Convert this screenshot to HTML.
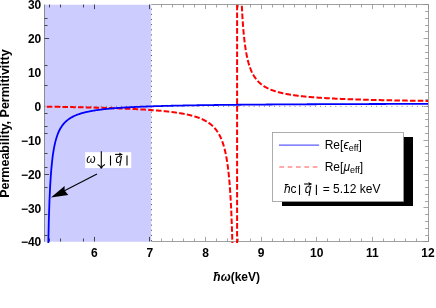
<!DOCTYPE html>
<html><head><meta charset="utf-8">
<style>
html,body{margin:0;padding:0;background:#fff;}
body{width:436px;height:308px;overflow:hidden;font-family:"Liberation Sans",sans-serif;}
svg{display:block;}
text{filter:grayscale(1);font-family:"Liberation Sans",sans-serif;fill:#000;}
.tl{font-size:12px;font-weight:bold;}
.yl{font-size:12.5px;font-weight:bold;}
.lg{font-size:12px;}
</style></head><body>
<svg width="436" height="308" viewBox="0 0 436 308">
<defs><clipPath id="cp"><rect x="44.6" y="4.722" width="383.44" height="238.25499999999997"/></clipPath></defs>
<rect x="0" y="0" width="436" height="308" fill="#fff"/>
<path d="M44.5 4.5 H428.5 V241.5 H44.5" fill="none" stroke="#888" stroke-width="0.8"/>
<line x1="161.50" y1="241.50" x2="161.50" y2="238.50" stroke="#888" stroke-width="0.75"/><line x1="161.50" y1="4.50" x2="161.50" y2="7.50" stroke="#888" stroke-width="0.75"/><line x1="172.50" y1="241.50" x2="172.50" y2="238.50" stroke="#888" stroke-width="0.75"/><line x1="172.50" y1="4.50" x2="172.50" y2="7.50" stroke="#888" stroke-width="0.75"/><line x1="183.50" y1="241.50" x2="183.50" y2="238.50" stroke="#888" stroke-width="0.75"/><line x1="183.50" y1="4.50" x2="183.50" y2="7.50" stroke="#888" stroke-width="0.75"/><line x1="194.50" y1="241.50" x2="194.50" y2="238.50" stroke="#888" stroke-width="0.75"/><line x1="194.50" y1="4.50" x2="194.50" y2="7.50" stroke="#888" stroke-width="0.75"/><line x1="205.50" y1="241.50" x2="205.50" y2="236.90" stroke="#888" stroke-width="0.75"/><line x1="205.50" y1="4.50" x2="205.50" y2="9.10" stroke="#888" stroke-width="0.75"/><line x1="216.50" y1="241.50" x2="216.50" y2="238.50" stroke="#888" stroke-width="0.75"/><line x1="216.50" y1="4.50" x2="216.50" y2="7.50" stroke="#888" stroke-width="0.75"/><line x1="227.50" y1="241.50" x2="227.50" y2="238.50" stroke="#888" stroke-width="0.75"/><line x1="227.50" y1="4.50" x2="227.50" y2="7.50" stroke="#888" stroke-width="0.75"/><line x1="238.50" y1="241.50" x2="238.50" y2="238.50" stroke="#888" stroke-width="0.75"/><line x1="238.50" y1="4.50" x2="238.50" y2="7.50" stroke="#888" stroke-width="0.75"/><line x1="250.50" y1="241.50" x2="250.50" y2="238.50" stroke="#888" stroke-width="0.75"/><line x1="250.50" y1="4.50" x2="250.50" y2="7.50" stroke="#888" stroke-width="0.75"/><line x1="261.50" y1="241.50" x2="261.50" y2="236.90" stroke="#888" stroke-width="0.75"/><line x1="261.50" y1="4.50" x2="261.50" y2="9.10" stroke="#888" stroke-width="0.75"/><line x1="272.50" y1="241.50" x2="272.50" y2="238.50" stroke="#888" stroke-width="0.75"/><line x1="272.50" y1="4.50" x2="272.50" y2="7.50" stroke="#888" stroke-width="0.75"/><line x1="283.50" y1="241.50" x2="283.50" y2="238.50" stroke="#888" stroke-width="0.75"/><line x1="283.50" y1="4.50" x2="283.50" y2="7.50" stroke="#888" stroke-width="0.75"/><line x1="294.50" y1="241.50" x2="294.50" y2="238.50" stroke="#888" stroke-width="0.75"/><line x1="294.50" y1="4.50" x2="294.50" y2="7.50" stroke="#888" stroke-width="0.75"/><line x1="305.50" y1="241.50" x2="305.50" y2="238.50" stroke="#888" stroke-width="0.75"/><line x1="305.50" y1="4.50" x2="305.50" y2="7.50" stroke="#888" stroke-width="0.75"/><line x1="316.50" y1="241.50" x2="316.50" y2="236.90" stroke="#888" stroke-width="0.75"/><line x1="316.50" y1="4.50" x2="316.50" y2="9.10" stroke="#888" stroke-width="0.75"/><line x1="327.50" y1="241.50" x2="327.50" y2="238.50" stroke="#888" stroke-width="0.75"/><line x1="327.50" y1="4.50" x2="327.50" y2="7.50" stroke="#888" stroke-width="0.75"/><line x1="339.50" y1="241.50" x2="339.50" y2="238.50" stroke="#888" stroke-width="0.75"/><line x1="339.50" y1="4.50" x2="339.50" y2="7.50" stroke="#888" stroke-width="0.75"/><line x1="350.50" y1="241.50" x2="350.50" y2="238.50" stroke="#888" stroke-width="0.75"/><line x1="350.50" y1="4.50" x2="350.50" y2="7.50" stroke="#888" stroke-width="0.75"/><line x1="361.50" y1="241.50" x2="361.50" y2="238.50" stroke="#888" stroke-width="0.75"/><line x1="361.50" y1="4.50" x2="361.50" y2="7.50" stroke="#888" stroke-width="0.75"/><line x1="372.50" y1="241.50" x2="372.50" y2="236.90" stroke="#888" stroke-width="0.75"/><line x1="372.50" y1="4.50" x2="372.50" y2="9.10" stroke="#888" stroke-width="0.75"/><line x1="383.50" y1="241.50" x2="383.50" y2="238.50" stroke="#888" stroke-width="0.75"/><line x1="383.50" y1="4.50" x2="383.50" y2="7.50" stroke="#888" stroke-width="0.75"/><line x1="394.50" y1="241.50" x2="394.50" y2="238.50" stroke="#888" stroke-width="0.75"/><line x1="394.50" y1="4.50" x2="394.50" y2="7.50" stroke="#888" stroke-width="0.75"/><line x1="405.50" y1="241.50" x2="405.50" y2="238.50" stroke="#888" stroke-width="0.75"/><line x1="405.50" y1="4.50" x2="405.50" y2="7.50" stroke="#888" stroke-width="0.75"/><line x1="416.50" y1="241.50" x2="416.50" y2="238.50" stroke="#888" stroke-width="0.75"/><line x1="416.50" y1="4.50" x2="416.50" y2="7.50" stroke="#888" stroke-width="0.75"/><line x1="428.50" y1="241.50" x2="428.50" y2="236.90" stroke="#888" stroke-width="0.75"/><line x1="428.50" y1="4.50" x2="428.50" y2="9.10" stroke="#888" stroke-width="0.75"/><line x1="428.50" y1="241.50" x2="423.50" y2="241.50" stroke="#888" stroke-width="0.75"/><line x1="428.50" y1="235.50" x2="425.10" y2="235.50" stroke="#888" stroke-width="0.75"/><line x1="428.50" y1="228.50" x2="425.10" y2="228.50" stroke="#888" stroke-width="0.75"/><line x1="428.50" y1="221.50" x2="425.10" y2="221.50" stroke="#888" stroke-width="0.75"/><line x1="428.50" y1="214.50" x2="425.10" y2="214.50" stroke="#888" stroke-width="0.75"/><line x1="428.50" y1="207.50" x2="423.50" y2="207.50" stroke="#888" stroke-width="0.75"/><line x1="428.50" y1="201.50" x2="425.10" y2="201.50" stroke="#888" stroke-width="0.75"/><line x1="428.50" y1="194.50" x2="425.10" y2="194.50" stroke="#888" stroke-width="0.75"/><line x1="428.50" y1="187.50" x2="425.10" y2="187.50" stroke="#888" stroke-width="0.75"/><line x1="428.50" y1="180.50" x2="425.10" y2="180.50" stroke="#888" stroke-width="0.75"/><line x1="428.50" y1="174.50" x2="423.50" y2="174.50" stroke="#888" stroke-width="0.75"/><line x1="428.50" y1="167.50" x2="425.10" y2="167.50" stroke="#888" stroke-width="0.75"/><line x1="428.50" y1="160.50" x2="425.10" y2="160.50" stroke="#888" stroke-width="0.75"/><line x1="428.50" y1="153.50" x2="425.10" y2="153.50" stroke="#888" stroke-width="0.75"/><line x1="428.50" y1="146.50" x2="425.10" y2="146.50" stroke="#888" stroke-width="0.75"/><line x1="428.50" y1="140.50" x2="423.50" y2="140.50" stroke="#888" stroke-width="0.75"/><line x1="428.50" y1="133.50" x2="425.10" y2="133.50" stroke="#888" stroke-width="0.75"/><line x1="428.50" y1="126.50" x2="425.10" y2="126.50" stroke="#888" stroke-width="0.75"/><line x1="428.50" y1="119.50" x2="425.10" y2="119.50" stroke="#888" stroke-width="0.75"/><line x1="428.50" y1="113.50" x2="425.10" y2="113.50" stroke="#888" stroke-width="0.75"/><line x1="428.50" y1="106.50" x2="423.50" y2="106.50" stroke="#888" stroke-width="0.75"/><line x1="428.50" y1="99.50" x2="425.10" y2="99.50" stroke="#888" stroke-width="0.75"/><line x1="428.50" y1="92.50" x2="425.10" y2="92.50" stroke="#888" stroke-width="0.75"/><line x1="428.50" y1="85.50" x2="425.10" y2="85.50" stroke="#888" stroke-width="0.75"/><line x1="428.50" y1="79.50" x2="425.10" y2="79.50" stroke="#888" stroke-width="0.75"/><line x1="428.50" y1="72.50" x2="423.50" y2="72.50" stroke="#888" stroke-width="0.75"/><line x1="428.50" y1="65.50" x2="425.10" y2="65.50" stroke="#888" stroke-width="0.75"/><line x1="428.50" y1="58.50" x2="425.10" y2="58.50" stroke="#888" stroke-width="0.75"/><line x1="428.50" y1="52.50" x2="425.10" y2="52.50" stroke="#888" stroke-width="0.75"/><line x1="428.50" y1="45.50" x2="425.10" y2="45.50" stroke="#888" stroke-width="0.75"/><line x1="428.50" y1="38.50" x2="423.50" y2="38.50" stroke="#888" stroke-width="0.75"/><line x1="428.50" y1="31.50" x2="425.10" y2="31.50" stroke="#888" stroke-width="0.75"/><line x1="428.50" y1="25.50" x2="425.10" y2="25.50" stroke="#888" stroke-width="0.75"/><line x1="428.50" y1="18.50" x2="425.10" y2="18.50" stroke="#888" stroke-width="0.75"/><line x1="428.50" y1="11.50" x2="425.10" y2="11.50" stroke="#888" stroke-width="0.75"/><line x1="428.50" y1="4.50" x2="423.50" y2="4.50" stroke="#888" stroke-width="0.75"/>
<rect x="44.6" y="3.9" width="106.60" height="1.2" fill="#fff"/>
<rect x="44.6" y="240.9" width="106.60" height="1.2" fill="#fff"/>
<rect x="44.6" y="4.722" width="106.60" height="237.05499999999998" fill="#ccccff"/>
<line x1="44.5" y1="4.722" x2="44.5" y2="241.777" stroke="#555" stroke-width="0.65"/>
<line x1="49.50" y1="241.50" x2="49.50" y2="238.50" stroke="#444" stroke-width="1.0"/><line x1="49.50" y1="4.50" x2="49.50" y2="7.50" stroke="#444" stroke-width="1.0"/><line x1="60.50" y1="241.50" x2="60.50" y2="238.50" stroke="#444" stroke-width="1.0"/><line x1="60.50" y1="4.50" x2="60.50" y2="7.50" stroke="#444" stroke-width="1.0"/><line x1="83.50" y1="241.50" x2="83.50" y2="238.50" stroke="#444" stroke-width="1.0"/><line x1="83.50" y1="4.50" x2="83.50" y2="7.50" stroke="#444" stroke-width="1.0"/><line x1="94.50" y1="241.50" x2="94.50" y2="236.90" stroke="#444" stroke-width="1.0"/><line x1="94.50" y1="4.50" x2="94.50" y2="9.10" stroke="#444" stroke-width="1.0"/><line x1="149.50" y1="241.50" x2="149.50" y2="236.90" stroke="#444" stroke-width="1.0"/><line x1="149.50" y1="4.50" x2="149.50" y2="9.10" stroke="#444" stroke-width="1.0"/><line x1="44.50" y1="235.50" x2="47.50" y2="235.50" stroke="#444" stroke-width="1.0"/><line x1="44.50" y1="214.50" x2="47.50" y2="214.50" stroke="#444" stroke-width="1.0"/><line x1="44.50" y1="187.50" x2="47.50" y2="187.50" stroke="#444" stroke-width="1.0"/><line x1="44.50" y1="174.50" x2="49.10" y2="174.50" stroke="#444" stroke-width="1.0"/><line x1="44.50" y1="167.50" x2="47.50" y2="167.50" stroke="#444" stroke-width="1.0"/><line x1="44.50" y1="153.50" x2="47.50" y2="153.50" stroke="#444" stroke-width="1.0"/><line x1="44.50" y1="133.50" x2="47.50" y2="133.50" stroke="#444" stroke-width="1.0"/><line x1="44.50" y1="126.50" x2="47.50" y2="126.50" stroke="#444" stroke-width="1.0"/><line x1="44.50" y1="113.50" x2="47.50" y2="113.50" stroke="#444" stroke-width="1.0"/><line x1="44.50" y1="85.50" x2="47.50" y2="85.50" stroke="#444" stroke-width="1.0"/><line x1="44.50" y1="65.50" x2="47.50" y2="65.50" stroke="#444" stroke-width="1.0"/><line x1="44.50" y1="38.50" x2="49.10" y2="38.50" stroke="#444" stroke-width="1.0"/><line x1="44.50" y1="25.50" x2="47.50" y2="25.50" stroke="#444" stroke-width="1.0"/><line x1="44.50" y1="18.50" x2="47.50" y2="18.50" stroke="#444" stroke-width="1.0"/>
<line x1="151.5" y1="8.75" x2="151.5" y2="241.777" stroke="#444" stroke-width="0.9" stroke-dasharray="1.0 4.14"/>
<line x1="44.6" y1="106.32" x2="428.04" y2="106.32" stroke="#666" stroke-width="0.8" stroke-dasharray="1 4.1"/>
<g clip-path="url(#cp)">
<g fill="none" stroke="#ff0000" stroke-width="2" stroke-dasharray="5.6 2.2">
<path d="M46.80 106.68 L47.17 106.69 L47.54 106.69 L47.91 106.70 L48.29 106.70 L48.66 106.71 L49.03 106.72 L49.40 106.72 L49.77 106.73 L50.14 106.73 L50.51 106.74 L50.89 106.74 L51.26 106.75 L51.63 106.75 L52.00 106.76 L52.37 106.77 L52.74 106.77 L53.12 106.78 L53.49 106.78 L53.86 106.79 L54.23 106.79 L54.60 106.80 L54.97 106.81 L55.34 106.81 L55.72 106.82 L56.09 106.82 L56.46 106.83 L56.83 106.84 L57.20 106.84 L57.57 106.85 L57.94 106.85 L58.32 106.86 L58.69 106.87 L59.06 106.87 L59.43 106.88 L59.80 106.88 L60.17 106.89 L60.54 106.90 L60.92 106.90 L61.29 106.91 L61.66 106.92 L62.03 106.92 L62.40 106.93 L62.77 106.94 L63.14 106.94 L63.52 106.95 L63.89 106.95 L64.26 106.96 L64.63 106.97 L65.00 106.97 L65.37 106.98 L65.75 106.99 L66.12 106.99 L66.49 107.00 L66.86 107.01 L67.23 107.01 L67.60 107.02 L67.97 107.03 L68.35 107.03 L68.72 107.04 L69.09 107.05 L69.46 107.05 L69.83 107.06 L70.20 107.07 L70.57 107.08 L70.95 107.08 L71.32 107.09 L71.69 107.10 L72.06 107.10 L72.43 107.11 L72.80 107.12 L73.17 107.13 L73.55 107.13 L73.92 107.14 L74.29 107.15 L74.66 107.16 L75.03 107.16 L75.40 107.17 L75.78 107.18 L76.15 107.18 L76.52 107.19 L76.89 107.20 L77.26 107.21 L77.63 107.22 L78.00 107.22 L78.38 107.23 L78.75 107.24 L79.12 107.25 L79.49 107.25 L79.86 107.26 L80.23 107.27 L80.60 107.28 L80.98 107.29 L81.35 107.29 L81.72 107.30 L82.09 107.31 L82.46 107.32 L82.83 107.33 L83.20 107.33 L83.58 107.34 L83.95 107.35 L84.32 107.36 L84.69 107.37 L85.06 107.38 L85.43 107.38 L85.81 107.39 L86.18 107.40 L86.55 107.41 L86.92 107.42 L87.29 107.43 L87.66 107.44 L88.03 107.44 L88.41 107.45 L88.78 107.46 L89.15 107.47 L89.52 107.48 L89.89 107.49 L90.26 107.50 L90.63 107.51 L91.01 107.52 L91.38 107.53 L91.75 107.53 L92.12 107.54 L92.49 107.55 L92.86 107.56 L93.23 107.57 L93.61 107.58 L93.98 107.59 L94.35 107.60 L94.72 107.61 L95.09 107.62 L95.46 107.63 L95.83 107.64 L96.21 107.65 L96.58 107.66 L96.95 107.67 L97.32 107.68 L97.69 107.69 L98.06 107.70 L98.44 107.71 L98.81 107.72 L99.18 107.73 L99.55 107.74 L99.92 107.75 L100.29 107.76 L100.66 107.77 L101.04 107.78 L101.41 107.79 L101.78 107.80 L102.15 107.81 L102.52 107.82 L102.89 107.84 L103.26 107.85 L103.64 107.86 L104.01 107.87 L104.38 107.88 L104.75 107.89 L105.12 107.90 L105.49 107.91 L105.86 107.92 L106.24 107.94 L106.61 107.95 L106.98 107.96 L107.35 107.97 L107.72 107.98 L108.09 107.99 L108.47 108.00 L108.84 108.02 L109.21 108.03 L109.58 108.04 L109.95 108.05 L110.32 108.06 L110.69 108.08 L111.07 108.09 L111.44 108.10 L111.81 108.11 L112.18 108.13 L112.55 108.14 L112.92 108.15 L113.29 108.16 L113.67 108.18 L114.04 108.19 L114.41 108.20 L114.78 108.22 L115.15 108.23 L115.52 108.24 L115.89 108.26 L116.27 108.27 L116.64 108.28 L117.01 108.30 L117.38 108.31 L117.75 108.32 L118.12 108.34 L118.49 108.35 L118.87 108.37 L119.24 108.38 L119.61 108.39 L119.98 108.41 L120.35 108.42 L120.72 108.44 L121.10 108.45 L121.47 108.47 L121.84 108.48 L122.21 108.49 L122.58 108.51 L122.95 108.52 L123.32 108.54 L123.70 108.55 L124.07 108.57 L124.44 108.59 L124.81 108.60 L125.18 108.62 L125.55 108.63 L125.92 108.65 L126.30 108.66 L126.67 108.68 L127.04 108.70 L127.41 108.71 L127.78 108.73 L128.15 108.75 L128.52 108.76 L128.90 108.78 L129.27 108.80 L129.64 108.81 L130.01 108.83 L130.38 108.85 L130.75 108.86 L131.13 108.88 L131.50 108.90 L131.87 108.92 L132.24 108.93 L132.61 108.95 L132.98 108.97 L133.35 108.99 L133.73 109.01 L134.10 109.02 L134.47 109.04 L134.84 109.06 L135.21 109.08 L135.58 109.10 L135.95 109.12 L136.33 109.14 L136.70 109.16 L137.07 109.18 L137.44 109.20 L137.81 109.22 L138.18 109.24 L138.55 109.26 L138.93 109.28 L139.30 109.30 L139.67 109.32 L140.04 109.34 L140.41 109.36 L140.78 109.38 L141.16 109.40 L141.53 109.42 L141.90 109.45 L142.27 109.47 L142.64 109.49 L143.01 109.51 L143.38 109.53 L143.76 109.56 L144.13 109.58 L144.50 109.60 L144.87 109.62 L145.24 109.65 L145.61 109.67 L145.98 109.69 L146.36 109.72 L146.73 109.74 L147.10 109.77 L147.47 109.79 L147.84 109.82 L148.21 109.84 L148.58 109.87 L148.96 109.89 L149.33 109.92 L149.70 109.94 L150.07 109.97 L150.44 109.99 L150.81 110.02 L151.18 110.05 L151.56 110.07 L151.93 110.10 L152.30 110.13 L152.67 110.16 L153.04 110.18 L153.41 110.21 L153.79 110.24 L154.16 110.27 L154.53 110.30 L154.90 110.33 L155.27 110.36 L155.64 110.38 L156.01 110.41 L156.39 110.44 L156.76 110.48 L157.13 110.51 L157.50 110.54 L157.87 110.57 L158.24 110.60 L158.61 110.63 L158.99 110.66 L159.36 110.70 L159.73 110.73 L160.10 110.76 L160.47 110.80 L160.84 110.83 L161.21 110.86 L161.59 110.90 L161.96 110.93 L162.33 110.97 L162.70 111.00 L163.07 111.04 L163.44 111.08 L163.82 111.11 L164.19 111.15 L164.56 111.19 L164.93 111.22 L165.30 111.26 L165.67 111.30 L166.04 111.34 L166.42 111.38 L166.79 111.42 L167.16 111.46 L167.53 111.50 L167.90 111.54 L168.27 111.58 L168.64 111.63 L169.02 111.67 L169.39 111.71 L169.76 111.75 L170.13 111.80 L170.50 111.84 L170.87 111.89 L171.24 111.93 L171.62 111.98 L171.99 112.03 L172.36 112.07 L172.73 112.12 L173.10 112.17 L173.47 112.22 L173.84 112.27 L174.22 112.32 L174.59 112.37 L174.96 112.42 L175.33 112.47 L175.70 112.52 L176.07 112.58 L176.45 112.63 L176.82 112.68 L177.19 112.74 L177.56 112.80 L177.93 112.85 L178.30 112.91 L178.67 112.97 L179.05 113.03 L179.42 113.09 L179.79 113.15 L180.16 113.21 L180.53 113.27 L180.90 113.33 L181.27 113.40 L181.65 113.46 L182.02 113.52 L182.39 113.59 L182.76 113.66 L183.13 113.73 L183.50 113.80 L183.87 113.87 L184.25 113.94 L184.62 114.01 L184.99 114.08 L185.36 114.16 L185.73 114.23 L186.10 114.31 L186.48 114.39 L186.85 114.46 L187.22 114.54 L187.59 114.63 L187.96 114.71 L188.33 114.79 L188.70 114.88 L189.08 114.96 L189.45 115.05 L189.82 115.14 L190.19 115.23 L190.56 115.32 L190.93 115.42 L191.30 115.51 L191.68 115.61 L192.05 115.71 L192.42 115.81 L192.79 115.91 L193.16 116.01 L193.53 116.12 L193.90 116.22 L194.28 116.33 L194.65 116.44 L195.02 116.56 L195.39 116.67 L195.76 116.79 L196.13 116.91 L196.51 117.03 L196.88 117.15 L197.25 117.28 L197.62 117.41 L197.99 117.54 L198.36 117.67 L198.73 117.81 L199.11 117.95 L199.48 118.09 L199.85 118.24 L200.22 118.38 L200.59 118.54 L200.96 118.69 L201.33 118.85 L201.71 119.01 L202.08 119.17 L202.45 119.34 L202.82 119.51 L203.19 119.69 L203.56 119.87 L203.93 120.05 L204.31 120.24 L204.68 120.43 L205.05 120.63 L205.42 120.83 L205.79 121.04 L206.16 121.25 L206.53 121.47 L206.91 121.69 L207.28 121.92 L207.65 122.16 L208.02 122.40 L208.39 122.64 L208.76 122.90 L209.14 123.16 L209.51 123.43 L209.88 123.70 L210.25 123.99 L210.62 124.28 L210.99 124.58 L211.36 124.89 L211.74 125.21 L212.11 125.54 L212.48 125.88 L212.85 126.23 L213.22 126.59 L213.59 126.97 L213.96 127.35 L214.34 127.75 L214.71 128.16 L215.08 128.59 L215.45 129.04 L215.82 129.50 L216.19 129.97 L216.56 130.47 L216.94 130.98 L217.31 131.52 L217.68 132.07 L218.05 132.65 L218.42 133.26 L218.79 133.88 L219.17 134.54 L219.54 135.23 L219.91 135.95 L220.28 136.70 L220.65 137.49 L221.02 138.31 L221.39 139.18 L221.77 140.09 L222.14 141.06 L222.51 142.07 L222.88 143.14 L223.25 144.28 L223.62 145.48 L223.99 146.75 L224.37 148.11 L224.74 149.55 L225.11 151.09 L225.48 152.74 L225.85 154.51 L226.22 156.42 L226.59 158.47 L226.97 160.69 L227.34 163.09 L227.71 165.71 L228.08 168.57 L228.45 171.72 L228.82 175.18 L229.19 179.01 L229.57 183.28 L229.94 188.07 L230.31 193.47 L230.68 199.61 L231.05 206.66 L231.42 214.83 L231.80 224.41 L232.17 235.80 L232.54 249.57"/>
<path d="M241.48 -2.05 L241.85 6.22 L242.22 13.29 L242.59 19.41 L242.97 24.74 L243.34 29.44 L243.71 33.60 L244.09 37.32 L244.46 40.67 L244.83 43.69 L245.21 46.44 L245.58 48.94 L245.95 51.23 L246.33 53.34 L246.70 55.28 L247.07 57.08 L247.45 58.75 L247.82 60.30 L248.19 61.74 L248.56 63.10 L248.94 64.37 L249.31 65.56 L249.68 66.68 L250.06 67.73 L250.43 68.73 L250.80 69.67 L251.18 70.56 L251.55 71.41 L251.92 72.21 L252.30 72.98 L252.67 73.70 L253.04 74.40 L253.42 75.06 L253.79 75.69 L254.16 76.30 L254.53 76.87 L254.91 77.43 L255.28 77.96 L255.65 78.47 L256.03 78.96 L256.40 79.43 L256.77 79.88 L257.15 80.32 L257.52 80.74 L257.89 81.15 L258.27 81.54 L258.64 81.92 L259.01 82.28 L259.39 82.63 L259.76 82.97 L260.13 83.30 L260.50 83.62 L260.88 83.93 L261.25 84.23 L261.62 84.52 L262.00 84.80 L262.37 85.08 L262.74 85.34 L263.12 85.60 L263.49 85.85 L263.86 86.10 L264.24 86.33 L264.61 86.56 L264.98 86.79 L265.36 87.01 L265.73 87.22 L266.10 87.43 L266.48 87.63 L266.85 87.83 L267.22 88.02 L267.59 88.21 L267.97 88.39 L268.34 88.57 L268.71 88.74 L269.09 88.91 L269.46 89.08 L269.83 89.24 L270.21 89.40 L270.58 89.55 L270.95 89.71 L271.33 89.85 L271.70 90.00 L272.07 90.14 L272.45 90.28 L272.82 90.42 L273.19 90.55 L273.56 90.68 L273.94 90.81 L274.31 90.94 L274.68 91.06 L275.06 91.18 L275.43 91.30 L275.80 91.41 L276.18 91.53 L276.55 91.64 L276.92 91.75 L277.30 91.86 L277.67 91.96 L278.04 92.07 L278.42 92.17 L278.79 92.27 L279.16 92.37 L279.53 92.46 L279.91 92.56 L280.28 92.65 L280.65 92.74 L281.03 92.83 L281.40 92.92 L281.77 93.01 L282.15 93.09 L282.52 93.18 L282.89 93.26 L283.27 93.34 L283.64 93.42 L284.01 93.50 L284.39 93.58 L284.76 93.65 L285.13 93.73 L285.50 93.80 L285.88 93.88 L286.25 93.95 L286.62 94.02 L287.00 94.09 L287.37 94.16 L287.74 94.23 L288.12 94.29 L288.49 94.36 L288.86 94.42 L289.24 94.49 L289.61 94.55 L289.98 94.61 L290.36 94.67 L290.73 94.73 L291.10 94.79 L291.47 94.85 L291.85 94.91 L292.22 94.97 L292.59 95.02 L292.97 95.08 L293.34 95.13 L293.71 95.19 L294.09 95.24 L294.46 95.29 L294.83 95.34 L295.21 95.40 L295.58 95.45 L295.95 95.50 L296.33 95.55 L296.70 95.59 L297.07 95.64 L297.44 95.69 L297.82 95.74 L298.19 95.78 L298.56 95.83 L298.94 95.87 L299.31 95.92 L299.68 95.96 L300.06 96.01 L300.43 96.05 L300.80 96.09 L301.18 96.14 L301.55 96.18 L301.92 96.22 L302.30 96.26 L302.67 96.30 L303.04 96.34 L303.41 96.38 L303.79 96.42 L304.16 96.46 L304.53 96.49 L304.91 96.53 L305.28 96.57 L305.65 96.61 L306.03 96.64 L306.40 96.68 L306.77 96.71 L307.15 96.75 L307.52 96.78 L307.89 96.82 L308.27 96.85 L308.64 96.89 L309.01 96.92 L309.38 96.95 L309.76 96.99 L310.13 97.02 L310.50 97.05 L310.88 97.08 L311.25 97.11 L311.62 97.14 L312.00 97.18 L312.37 97.21 L312.74 97.24 L313.12 97.27 L313.49 97.30 L313.86 97.33 L314.24 97.35 L314.61 97.38 L314.98 97.41 L315.35 97.44 L315.73 97.47 L316.10 97.50 L316.47 97.52 L316.85 97.55 L317.22 97.58 L317.59 97.60 L317.97 97.63 L318.34 97.66 L318.71 97.68 L319.09 97.71 L319.46 97.73 L319.83 97.76 L320.21 97.78 L320.58 97.81 L320.95 97.83 L321.33 97.86 L321.70 97.88 L322.07 97.91 L322.44 97.93 L322.82 97.95 L323.19 97.98 L323.56 98.00 L323.94 98.02 L324.31 98.05 L324.68 98.07 L325.06 98.09 L325.43 98.11 L325.80 98.13 L326.18 98.16 L326.55 98.18 L326.92 98.20 L327.30 98.22 L327.67 98.24 L328.04 98.26 L328.41 98.28 L328.79 98.30 L329.16 98.32 L329.53 98.34 L329.91 98.36 L330.28 98.38 L330.65 98.40 L331.03 98.42 L331.40 98.44 L331.77 98.46 L332.15 98.48 L332.52 98.50 L332.89 98.52 L333.27 98.54 L333.64 98.56 L334.01 98.58 L334.38 98.59 L334.76 98.61 L335.13 98.63 L335.50 98.65 L335.88 98.67 L336.25 98.68 L336.62 98.70 L337.00 98.72 L337.37 98.73 L337.74 98.75 L338.12 98.77 L338.49 98.79 L338.86 98.80 L339.24 98.82 L339.61 98.84 L339.98 98.85 L340.35 98.87 L340.73 98.88 L341.10 98.90 L341.47 98.92 L341.85 98.93 L342.22 98.95 L342.59 98.96 L342.97 98.98 L343.34 98.99 L343.71 99.01 L344.09 99.02 L344.46 99.04 L344.83 99.05 L345.21 99.07 L345.58 99.08 L345.95 99.10 L346.32 99.11 L346.70 99.13 L347.07 99.14 L347.44 99.15 L347.82 99.17 L348.19 99.18 L348.56 99.20 L348.94 99.21 L349.31 99.22 L349.68 99.24 L350.06 99.25 L350.43 99.27 L350.80 99.28 L351.18 99.29 L351.55 99.30 L351.92 99.32 L352.29 99.33 L352.67 99.34 L353.04 99.36 L353.41 99.37 L353.79 99.38 L354.16 99.39 L354.53 99.41 L354.91 99.42 L355.28 99.43 L355.65 99.44 L356.03 99.46 L356.40 99.47 L356.77 99.48 L357.15 99.49 L357.52 99.50 L357.89 99.52 L358.26 99.53 L358.64 99.54 L359.01 99.55 L359.38 99.56 L359.76 99.57 L360.13 99.59 L360.50 99.60 L360.88 99.61 L361.25 99.62 L361.62 99.63 L362.00 99.64 L362.37 99.65 L362.74 99.66 L363.12 99.67 L363.49 99.69 L363.86 99.70 L364.23 99.71 L364.61 99.72 L364.98 99.73 L365.35 99.74 L365.73 99.75 L366.10 99.76 L366.47 99.77 L366.85 99.78 L367.22 99.79 L367.59 99.80 L367.97 99.81 L368.34 99.82 L368.71 99.83 L369.09 99.84 L369.46 99.85 L369.83 99.86 L370.20 99.87 L370.58 99.88 L370.95 99.89 L371.32 99.90 L371.70 99.91 L372.07 99.92 L372.44 99.93 L372.82 99.94 L373.19 99.95 L373.56 99.96 L373.94 99.96 L374.31 99.97 L374.68 99.98 L375.06 99.99 L375.43 100.00 L375.80 100.01 L376.18 100.02 L376.55 100.03 L376.92 100.04 L377.29 100.05 L377.67 100.05 L378.04 100.06 L378.41 100.07 L378.79 100.08 L379.16 100.09 L379.53 100.10 L379.91 100.11 L380.28 100.11 L380.65 100.12 L381.03 100.13 L381.40 100.14 L381.77 100.15 L382.15 100.16 L382.52 100.16 L382.89 100.17 L383.26 100.18 L383.64 100.19 L384.01 100.20 L384.38 100.20 L384.76 100.21 L385.13 100.22 L385.50 100.23 L385.88 100.24 L386.25 100.24 L386.62 100.25 L387.00 100.26 L387.37 100.27 L387.74 100.27 L388.12 100.28 L388.49 100.29 L388.86 100.30 L389.23 100.30 L389.61 100.31 L389.98 100.32 L390.35 100.33 L390.73 100.33 L391.10 100.34 L391.47 100.35 L391.85 100.35 L392.22 100.36 L392.59 100.37 L392.97 100.38 L393.34 100.38 L393.71 100.39 L394.09 100.40 L394.46 100.40 L394.83 100.41 L395.20 100.42 L395.58 100.43 L395.95 100.43 L396.32 100.44 L396.70 100.45 L397.07 100.45 L397.44 100.46 L397.82 100.47 L398.19 100.47 L398.56 100.48 L398.94 100.49 L399.31 100.49 L399.68 100.50 L400.06 100.51 L400.43 100.51 L400.80 100.52 L401.17 100.52 L401.55 100.53 L401.92 100.54 L402.29 100.54 L402.67 100.55 L403.04 100.56 L403.41 100.56 L403.79 100.57 L404.16 100.57 L404.53 100.58 L404.91 100.59 L405.28 100.59 L405.65 100.60 L406.03 100.61 L406.40 100.61 L406.77 100.62 L407.14 100.62 L407.52 100.63 L407.89 100.63 L408.26 100.64 L408.64 100.65 L409.01 100.65 L409.38 100.66 L409.76 100.66 L410.13 100.67 L410.50 100.68 L410.88 100.68 L411.25 100.69 L411.62 100.69 L412.00 100.70 L412.37 100.70 L412.74 100.71 L413.11 100.72 L413.49 100.72 L413.86 100.73 L414.23 100.73 L414.61 100.74 L414.98 100.74 L415.35 100.75 L415.73 100.75 L416.10 100.76 L416.47 100.76 L416.85 100.77 L417.22 100.77 L417.59 100.78 L417.97 100.79 L418.34 100.79 L418.71 100.80 L419.08 100.80 L419.46 100.81 L419.83 100.81 L420.20 100.82 L420.58 100.82 L420.95 100.83 L421.32 100.83 L421.70 100.84 L422.07 100.84 L422.44 100.85 L422.82 100.85 L423.19 100.86 L423.56 100.86 L423.94 100.87 L424.31 100.87 L424.68 100.88 L425.05 100.88 L425.43 100.89 L425.80 100.89 L426.17 100.90 L426.55 100.90 L426.92 100.91 L427.29 100.91 L427.67 100.92 L428.04 100.92"/>
<line x1="237.10" y1="4.722" x2="237.10" y2="243.777"/>
</g>
<path d="M48.19 248.89 L48.82 220.42 L49.45 201.23 L50.09 187.41 L50.72 176.99 L51.35 168.85 L51.99 162.32 L52.62 156.96 L53.25 152.48 L53.89 148.68 L54.52 145.43 L55.15 142.60 L55.78 140.12 L56.42 137.93 L57.05 135.99 L57.68 134.24 L58.32 132.67 L58.95 131.25 L59.58 129.96 L60.22 128.78 L60.85 127.69 L61.48 126.70 L62.12 125.78 L62.75 124.92 L63.38 124.13 L64.01 123.39 L64.65 122.71 L65.28 122.06 L65.91 121.46 L66.55 120.89 L67.18 120.35 L67.81 119.85 L68.45 119.37 L69.08 118.92 L69.71 118.50 L70.35 118.09 L70.98 117.71 L71.61 117.34 L72.24 116.99 L72.88 116.66 L73.51 116.34 L74.14 116.04 L74.78 115.75 L75.41 115.47 L76.04 115.21 L76.68 114.95 L77.31 114.71 L77.94 114.47 L78.58 114.24 L79.21 114.03 L79.84 113.82 L80.48 113.61 L81.11 113.42 L81.74 113.23 L82.37 113.05 L83.01 112.87 L83.64 112.71 L84.27 112.54 L84.91 112.38 L85.54 112.23 L86.17 112.08 L86.81 111.94 L87.44 111.80 L88.07 111.66 L88.71 111.53 L89.34 111.40 L89.97 111.28 L90.60 111.16 L91.24 111.04 L91.87 110.92 L92.50 110.81 L93.14 110.71 L93.77 110.60 L94.40 110.50 L95.04 110.40 L95.67 110.30 L96.30 110.21 L96.94 110.11 L97.57 110.02 L98.20 109.94 L98.83 109.85 L99.47 109.77 L100.10 109.68 L100.73 109.60 L101.37 109.53 L102.00 109.45 L102.63 109.37 L103.27 109.30 L103.90 109.23 L104.53 109.16 L105.17 109.09 L105.80 109.02 L106.43 108.96 L107.06 108.89 L107.70 108.83 L108.33 108.77 L108.96 108.71 L109.60 108.65 L110.23 108.59 L110.86 108.54 L111.50 108.48 L112.13 108.42 L112.76 108.37 L113.40 108.32 L114.03 108.27 L114.66 108.22 L115.29 108.17 L115.93 108.12 L116.56 108.07 L117.19 108.02 L117.83 107.98 L118.46 107.93 L119.09 107.89 L119.73 107.84 L120.36 107.80 L120.99 107.76 L121.63 107.71 L122.26 107.67 L122.89 107.63 L123.52 107.59 L124.16 107.55 L124.79 107.52 L125.42 107.48 L126.06 107.44 L126.69 107.40 L127.32 107.37 L127.96 107.33 L128.59 107.30 L129.22 107.26 L129.86 107.23 L130.49 107.20 L131.12 107.16 L131.76 107.13 L132.39 107.10 L133.02 107.07 L133.65 107.04 L134.29 107.01 L134.92 106.98 L135.55 106.95 L136.19 106.92 L136.82 106.89 L137.45 106.86 L138.09 106.83 L138.72 106.81 L139.35 106.78 L139.99 106.75 L140.62 106.72 L141.25 106.70 L141.88 106.67 L142.52 106.65 L143.15 106.62 L143.78 106.60 L144.42 106.57 L145.05 106.55 L145.68 106.53 L146.32 106.50 L146.95 106.48 L147.58 106.46 L148.22 106.43 L148.85 106.41 L149.48 106.39 L150.11 106.37 L150.75 106.35 L151.38 106.32 L152.01 106.30 L152.65 106.28 L153.28 106.26 L153.91 106.24 L154.55 106.22 L155.18 106.20 L155.81 106.18 L156.45 106.16 L157.08 106.14 L157.71 106.12 L158.34 106.11 L158.98 106.09 L159.61 106.07 L160.24 106.05 L160.88 106.03 L161.51 106.02 L162.14 106.00 L162.78 105.98 L163.41 105.96 L164.04 105.95 L164.68 105.93 L165.31 105.91 L165.94 105.90 L166.57 105.88 L167.21 105.87 L167.84 105.85 L168.47 105.83 L169.11 105.82 L169.74 105.80 L170.37 105.79 L171.01 105.77 L171.64 105.76 L172.27 105.74 L172.91 105.73 L173.54 105.71 L174.17 105.70 L174.81 105.69 L175.44 105.67 L176.07 105.66 L176.70 105.65 L177.34 105.63 L177.97 105.62 L178.60 105.60 L179.24 105.59 L179.87 105.58 L180.50 105.57 L181.14 105.55 L181.77 105.54 L182.40 105.53 L183.04 105.52 L183.67 105.50 L184.30 105.49 L184.93 105.48 L185.57 105.47 L186.20 105.46 L186.83 105.44 L187.47 105.43 L188.10 105.42 L188.73 105.41 L189.37 105.40 L190.00 105.39 L190.63 105.38 L191.27 105.36 L191.90 105.35 L192.53 105.34 L193.16 105.33 L193.80 105.32 L194.43 105.31 L195.06 105.30 L195.70 105.29 L196.33 105.28 L196.96 105.27 L197.60 105.26 L198.23 105.25 L198.86 105.24 L199.50 105.23 L200.13 105.22 L200.76 105.21 L201.39 105.20 L202.03 105.19 L202.66 105.18 L203.29 105.17 L203.93 105.16 L204.56 105.15 L205.19 105.14 L205.83 105.14 L206.46 105.13 L207.09 105.12 L207.73 105.11 L208.36 105.10 L208.99 105.09 L209.62 105.08 L210.26 105.07 L210.89 105.07 L211.52 105.06 L212.16 105.05 L212.79 105.04 L213.42 105.03 L214.06 105.02 L214.69 105.02 L215.32 105.01 L215.96 105.00 L216.59 104.99 L217.22 104.99 L217.85 104.98 L218.49 104.97 L219.12 104.96 L219.75 104.95 L220.39 104.95 L221.02 104.94 L221.65 104.93 L222.29 104.92 L222.92 104.92 L223.55 104.91 L224.19 104.90 L224.82 104.90 L225.45 104.89 L226.09 104.88 L226.72 104.87 L227.35 104.87 L227.98 104.86 L228.62 104.85 L229.25 104.85 L229.88 104.84 L230.52 104.83 L231.15 104.83 L231.78 104.82 L232.42 104.81 L233.05 104.81 L233.68 104.80 L234.32 104.79 L234.95 104.79 L235.58 104.78 L236.21 104.78 L236.85 104.77 L237.48 104.76 L238.11 104.76 L238.75 104.75 L239.38 104.74 L240.01 104.74 L240.65 104.73 L241.28 104.73 L241.91 104.72 L242.55 104.72 L243.18 104.71 L243.81 104.70 L244.44 104.70 L245.08 104.69 L245.71 104.69 L246.34 104.68 L246.98 104.68 L247.61 104.67 L248.24 104.66 L248.88 104.66 L249.51 104.65 L250.14 104.65 L250.78 104.64 L251.41 104.64 L252.04 104.63 L252.67 104.63 L253.31 104.62 L253.94 104.62 L254.57 104.61 L255.21 104.61 L255.84 104.60 L256.47 104.60 L257.11 104.59 L257.74 104.59 L258.37 104.58 L259.01 104.58 L259.64 104.57 L260.27 104.57 L260.90 104.56 L261.54 104.56 L262.17 104.55 L262.80 104.55 L263.44 104.54 L264.07 104.54 L264.70 104.53 L265.34 104.53 L265.97 104.52 L266.60 104.52 L267.24 104.51 L267.87 104.51 L268.50 104.50 L269.14 104.50 L269.77 104.50 L270.40 104.49 L271.03 104.49 L271.67 104.48 L272.30 104.48 L272.93 104.47 L273.57 104.47 L274.20 104.47 L274.83 104.46 L275.47 104.46 L276.10 104.45 L276.73 104.45 L277.37 104.44 L278.00 104.44 L278.63 104.44 L279.26 104.43 L279.90 104.43 L280.53 104.42 L281.16 104.42 L281.80 104.42 L282.43 104.41 L283.06 104.41 L283.70 104.40 L284.33 104.40 L284.96 104.40 L285.60 104.39 L286.23 104.39 L286.86 104.39 L287.49 104.38 L288.13 104.38 L288.76 104.37 L289.39 104.37 L290.03 104.37 L290.66 104.36 L291.29 104.36 L291.93 104.36 L292.56 104.35 L293.19 104.35 L293.83 104.34 L294.46 104.34 L295.09 104.34 L295.72 104.33 L296.36 104.33 L296.99 104.33 L297.62 104.32 L298.26 104.32 L298.89 104.32 L299.52 104.31 L300.16 104.31 L300.79 104.31 L301.42 104.30 L302.06 104.30 L302.69 104.30 L303.32 104.29 L303.95 104.29 L304.59 104.29 L305.22 104.28 L305.85 104.28 L306.49 104.28 L307.12 104.27 L307.75 104.27 L308.39 104.27 L309.02 104.26 L309.65 104.26 L310.29 104.26 L310.92 104.25 L311.55 104.25 L312.19 104.25 L312.82 104.25 L313.45 104.24 L314.08 104.24 L314.72 104.24 L315.35 104.23 L315.98 104.23 L316.62 104.23 L317.25 104.22 L317.88 104.22 L318.52 104.22 L319.15 104.22 L319.78 104.21 L320.42 104.21 L321.05 104.21 L321.68 104.20 L322.31 104.20 L322.95 104.20 L323.58 104.20 L324.21 104.19 L324.85 104.19 L325.48 104.19 L326.11 104.18 L326.75 104.18 L327.38 104.18 L328.01 104.18 L328.65 104.17 L329.28 104.17 L329.91 104.17 L330.54 104.17 L331.18 104.16 L331.81 104.16 L332.44 104.16 L333.08 104.16 L333.71 104.15 L334.34 104.15 L334.98 104.15 L335.61 104.14 L336.24 104.14 L336.88 104.14 L337.51 104.14 L338.14 104.13 L338.77 104.13 L339.41 104.13 L340.04 104.13 L340.67 104.12 L341.31 104.12 L341.94 104.12 L342.57 104.12 L343.21 104.12 L343.84 104.11 L344.47 104.11 L345.11 104.11 L345.74 104.11 L346.37 104.10 L347.00 104.10 L347.64 104.10 L348.27 104.10 L348.90 104.09 L349.54 104.09 L350.17 104.09 L350.80 104.09 L351.44 104.08 L352.07 104.08 L352.70 104.08 L353.34 104.08 L353.97 104.08 L354.60 104.07 L355.23 104.07 L355.87 104.07 L356.50 104.07 L357.13 104.06 L357.77 104.06 L358.40 104.06 L359.03 104.06 L359.67 104.06 L360.30 104.05 L360.93 104.05 L361.57 104.05 L362.20 104.05 L362.83 104.05 L363.47 104.04 L364.10 104.04 L364.73 104.04 L365.36 104.04 L366.00 104.03 L366.63 104.03 L367.26 104.03 L367.90 104.03 L368.53 104.03 L369.16 104.02 L369.80 104.02 L370.43 104.02 L371.06 104.02 L371.70 104.02 L372.33 104.01 L372.96 104.01 L373.59 104.01 L374.23 104.01 L374.86 104.01 L375.49 104.00 L376.13 104.00 L376.76 104.00 L377.39 104.00 L378.03 104.00 L378.66 104.00 L379.29 103.99 L379.93 103.99 L380.56 103.99 L381.19 103.99 L381.82 103.99 L382.46 103.98 L383.09 103.98 L383.72 103.98 L384.36 103.98 L384.99 103.98 L385.62 103.98 L386.26 103.97 L386.89 103.97 L387.52 103.97 L388.16 103.97 L388.79 103.97 L389.42 103.96 L390.05 103.96 L390.69 103.96 L391.32 103.96 L391.95 103.96 L392.59 103.96 L393.22 103.95 L393.85 103.95 L394.49 103.95 L395.12 103.95 L395.75 103.95 L396.39 103.95 L397.02 103.94 L397.65 103.94 L398.28 103.94 L398.92 103.94 L399.55 103.94 L400.18 103.94 L400.82 103.93 L401.45 103.93 L402.08 103.93 L402.72 103.93 L403.35 103.93 L403.98 103.93 L404.62 103.92 L405.25 103.92 L405.88 103.92 L406.52 103.92 L407.15 103.92 L407.78 103.92 L408.41 103.91 L409.05 103.91 L409.68 103.91 L410.31 103.91 L410.95 103.91 L411.58 103.91 L412.21 103.91 L412.85 103.90 L413.48 103.90 L414.11 103.90 L414.75 103.90 L415.38 103.90 L416.01 103.90 L416.64 103.89 L417.28 103.89 L417.91 103.89 L418.54 103.89 L419.18 103.89 L419.81 103.89 L420.44 103.89 L421.08 103.88 L421.71 103.88 L422.34 103.88 L422.98 103.88 L423.61 103.88 L424.24 103.88 L424.87 103.88 L425.51 103.87 L426.14 103.87 L426.77 103.87 L427.41 103.87 L428.04 103.87" fill="none" stroke="#0000ff" stroke-width="1.8"/>
</g>
<text x="94.3" y="257.4" text-anchor="middle" class="tl">6</text><text x="149.9" y="257.4" text-anchor="middle" class="tl">7</text><text x="205.6" y="257.4" text-anchor="middle" class="tl">8</text><text x="261.2" y="257.4" text-anchor="middle" class="tl">9</text><text x="316.8" y="257.4" text-anchor="middle" class="tl">10</text><text x="372.4" y="257.4" text-anchor="middle" class="tl">11</text><text x="428.0" y="257.4" text-anchor="middle" class="tl">12</text>
<text x="41.3" y="246.3" text-anchor="end" class="tl">−40</text><text x="41.3" y="212.5" text-anchor="end" class="tl">−30</text><text x="41.3" y="178.6" text-anchor="end" class="tl">−20</text><text x="41.3" y="144.7" text-anchor="end" class="tl">−10</text><text x="41.3" y="110.9" text-anchor="end" class="tl">0</text><text x="41.3" y="77.0" text-anchor="end" class="tl">10</text><text x="41.3" y="43.1" text-anchor="end" class="tl">20</text><text x="41.3" y="9.3" text-anchor="end" class="tl">30</text>
<text x="236.7" y="281" text-anchor="middle" class="tl"><tspan font-style="italic">&#295;&#969;</tspan>(keV)</text>
<text transform="translate(9.3,123.6) rotate(-90)" text-anchor="middle" class="yl">Permeability, Permitivitty</text>
<!-- annotation -->
<rect x="85.2" y="152.2" width="46" height="15.9" fill="#fff"/>
<text x="86.2" y="163.2" class="lg" font-style="italic">&#969;</text>
<g stroke="#000" stroke-width="1.1" fill="none" stroke-linecap="butt">
<line x1="101.3" y1="151.3" x2="101.3" y2="168.2"/>
<path d="M97.6 164.5 Q100.6 165.6 101.3 168.4 Q102 165.6 105 164.5"/>
<line x1="110.5" y1="155.6" x2="110.5" y2="165.6"/>
<line x1="127.0" y1="155.6" x2="127.0" y2="165.6"/>
<line x1="115.1" y1="154.4" x2="121" y2="154.4"/>
</g>
<path d="M123 154.4 L118.9 152.5 L119.9 154.4 L118.9 156.3 Z" fill="#000"/>
<text x="115.5" y="163.2" class="lg" font-style="italic">q</text>
<line x1="97" y1="174.1" x2="62" y2="191.9" stroke="#000" stroke-width="1.1"/>
<path d="M50.9 197.5 L64.6 186.0 L64.6 190.6 L68.3 194.9 Z" fill="#000"/>
<!-- legend -->
<rect x="282" y="137" width="131" height="69" fill="#000"/>
<rect x="272.5" y="132.5" width="131" height="69" fill="#fff" stroke="#999" stroke-width="0.8"/>
<line x1="279" y1="145.2" x2="319.1" y2="145.2" stroke="#5c5cff" stroke-width="1.2"/>
<line x1="279.3" y1="167" x2="318.5" y2="167" stroke="#ff8c8c" stroke-width="1.3" stroke-dasharray="4.7 3.65"/>
<text x="324.7" y="149.4" class="lg">Re[<tspan font-style="italic">&#1013;</tspan><tspan font-size="9" dy="2">eff</tspan><tspan dy="-2">]</tspan></text>
<text x="324.7" y="170.9" class="lg">Re[<tspan font-style="italic">&#956;</tspan><tspan font-size="9" dy="2">eff</tspan><tspan dy="-2">]</tspan></text>
<text x="283.9" y="193.3" class="lg"><tspan font-style="italic">&#295;</tspan>c</text>
<g stroke="#000" stroke-width="1.1" fill="none">
<line x1="299.5" y1="184.8" x2="299.5" y2="194.9"/>
<line x1="316.4" y1="184.8" x2="316.4" y2="194.9"/>
<line x1="304.1" y1="184" x2="310" y2="184"/>
</g>
<path d="M312.3 184 L308.2 182.1 L309.2 184 L308.2 185.9 Z" fill="#000"/>
<text x="304.8" y="193.3" class="lg" font-style="italic">q</text>
<text x="322.7" y="193.3" class="lg">= 5.12 keV</text>
</svg>
</body></html>
